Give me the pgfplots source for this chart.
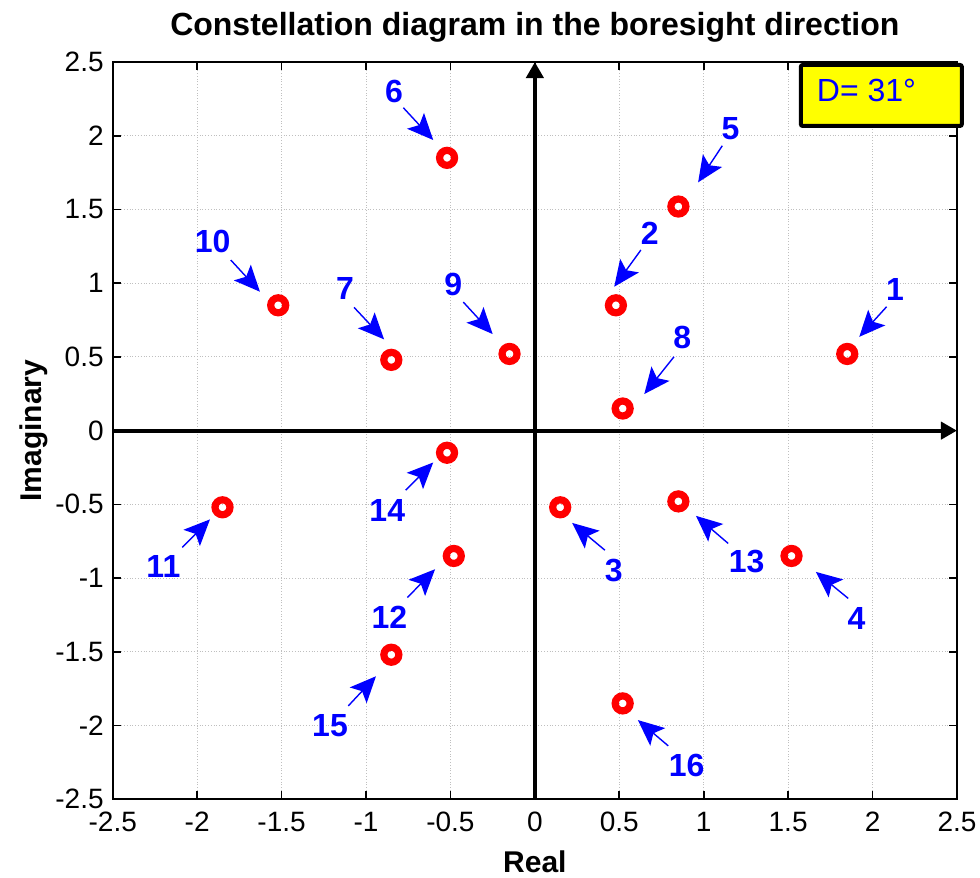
\documentclass[border=0pt]{standalone}
\usepackage{fontspec}
\setmainfont{Liberation Sans}
\usepackage{pgfplots}
\pgfplotsset{compat=1.18}
\usetikzlibrary{arrows.meta}
\definecolor{mblue}{rgb}{0,0,1}
\definecolor{mred}{rgb}{1,0,0}
\definecolor{myellow}{rgb}{1,1,0}
\tikzset{
  annot/.style={mblue, line width=0.7pt, -{Stealth[length=13pt,width=11.5pt,inset=2.8pt]}},
  lab/.style={mblue, inner sep=0pt, font=\fontsize{16}{18}\selectfont\bfseries},
}
\begin{document}
\begin{tikzpicture}
\begin{axis}[
  scale only axis, width=422pt, height=368.5pt,
  xmin=-2.5, xmax=2.5, ymin=-2.5, ymax=2.5,
  xtick={-2.5,-2,-1.5,-1,-0.5,0,0.5,1,1.5,2,2.5},
  ytick={-2.5,-2,-1.5,-1,-0.5,0,0.5,1,1.5,2,2.5},
  tick align=inside, xtick pos=both, ytick pos=both,
  major tick length=4pt,
  grid=major, grid style={densely dotted, black!25, line width=0.5pt},
  axis line style={line width=0.8pt},
  tick style={black, line width=0.8pt},
  ticklabel style={font=\fontsize{14}{16}\selectfont},
  xticklabel style={yshift=-3pt},
  yticklabel style={xshift=-1pt},
  /pgf/number format/assume math mode=true,
  title={Constellation diagram in the boresight direction},
  title style={font=\fontsize{16}{18}\selectfont\bfseries, at={(axis description cs:0.5,1.0475)}, anchor=center, yshift=-6pt},
  xlabel={Real},
  xlabel style={font=\fontsize{15}{17}\selectfont\bfseries, at={(axis description cs:0.5,-0.085)}, anchor=center},
  ylabel={Imaginary},
  ylabel style={font=\fontsize{15}{17}\selectfont\bfseries, at={(axis description cs:-0.093,0.5)}, anchor=center},
  clip=false,
]
\coordinate (ll) at (rel axis cs:0,0);
\coordinate (ur) at (rel axis cs:1,1);
% main axes
\draw[line width=2pt, -{Triangle[length=8pt,width=8.5pt]}] (axis cs:-2.5,0) -- (axis cs:2.5,0);
\draw[line width=2pt, -{Triangle[length=8pt,width=8.5pt]}] (axis cs:0,-2.5) -- (axis cs:0,2.5);
% constellation points
\addplot[only marks, mark=o, mred, mark size=3.75pt, line width=3.6pt] coordinates {
  (1.85,0.52) (0.48,0.85) (0.15,-0.52) (1.52,-0.85)
  (0.85,1.52) (-0.52,1.85) (-0.85,0.48) (0.52,0.15)
  (-0.15,0.52) (-1.52,0.85) (-1.85,-0.52) (-0.48,-0.85)
  (0.85,-0.48) (-0.52,-0.15) (-0.85,-1.52) (0.52,-1.85)
};
% annotations
\draw[annot] (axis cs:2.083,0.840) -- (axis cs:1.921,0.636);
\node[lab] at (axis cs:2.133,0.955) {1};
\draw[annot] (axis cs:0.628,1.225) -- (axis cs:0.470,0.976);
\node[lab] at (axis cs:0.681,1.338) {2};
\draw[annot] (axis cs:0.415,-0.811) -- (axis cs:0.221,-0.626);
\node[lab] at (axis cs:0.468,-0.946) {3};
\draw[annot] (axis cs:1.856,-1.138) -- (axis cs:1.664,-0.958);
\node[lab] at (axis cs:1.905,-1.274) {4};
\draw[annot] (axis cs:1.110,1.932) -- (axis cs:0.967,1.684);
\node[lab] at (axis cs:1.159,2.050) {5};
\draw[annot] (axis cs:-0.779,2.190) -- (axis cs:-0.602,1.971);
\node[lab] at (axis cs:-0.834,2.299) {6};
\draw[annot] (axis cs:-1.071,0.836) -- (axis cs:-0.893,0.619);
\node[lab] at (axis cs:-1.124,0.965) {7};
\draw[annot] (axis cs:0.824,0.501) -- (axis cs:0.648,0.248);
\node[lab] at (axis cs:0.873,0.632) {8};
\draw[annot] (axis cs:-0.424,0.872) -- (axis cs:-0.250,0.655);
\node[lab] at (axis cs:-0.483,0.994) {9};
\draw[annot] (axis cs:-1.801,1.157) -- (axis cs:-1.628,0.942);
\node[lab] at (axis cs:-1.908,1.281) {10};
\draw[annot] (axis cs:-2.088,-0.792) -- (axis cs:-1.924,-0.602);
\node[lab] at (axis cs:-2.200,-0.924) {11};
\draw[annot] (axis cs:-0.755,-1.132) -- (axis cs:-0.591,-0.940);
\node[lab] at (axis cs:-0.862,-1.267) {12};
\draw[annot] (axis cs:1.145,-0.765) -- (axis cs:0.954,-0.578);
\node[lab] at (axis cs:1.254,-0.890) {13};
\draw[annot] (axis cs:-0.765,-0.404) -- (axis cs:-0.602,-0.216);
\node[lab] at (axis cs:-0.874,-0.539) {14};
\draw[annot] (axis cs:-1.105,-1.867) -- (axis cs:-0.941,-1.666);
\node[lab] at (axis cs:-1.213,-1.998) {15};
\draw[annot] (axis cs:0.790,-2.138) -- (axis cs:0.610,-1.963);
\node[lab] at (axis cs:0.899,-2.269) {16};
% info box
\draw[line width=2pt, fill=myellow, rounded corners=1pt] (axis cs:1.575,2.066) rectangle (axis cs:2.529,2.480);
\node[anchor=west, mblue, inner sep=0pt, font=\fontsize{16}{18}\selectfont] at (axis cs:1.668,2.31) {D= 31°};
\end{axis}
\pgfresetboundingbox
\path[use as bounding box] ([shift={(-56.35pt,-39pt)}]ll) rectangle ([shift={(11.5pt,31pt)}]ur);
\end{tikzpicture}
\end{document}
